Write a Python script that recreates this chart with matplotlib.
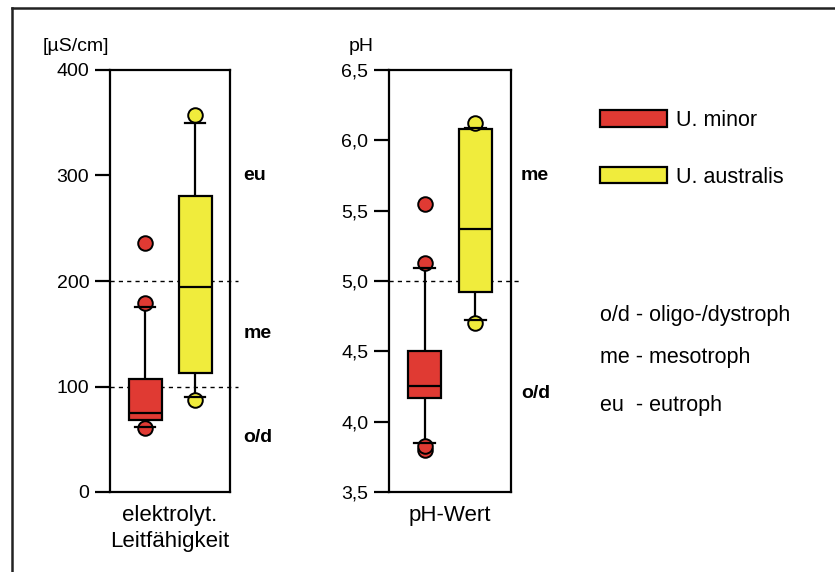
import matplotlib
matplotlib.use('Agg')
import matplotlib.pyplot as plt
from matplotlib.patches import Patch
from matplotlib.lines import Line2D
from matplotlib.ticker import FuncFormatter

plt.rcParams['font.family'] = ['Liberation Sans', 'DejaVu Sans']

species = ['U. minor', 'U. australis']
colors = ['#e03a33', '#f0ec3c']

# elektrolyt. Leitfaehigkeit [uS/cm]
cond_q1 = [68, 113]
cond_med = [75, 194]
cond_q3 = [107, 281]
cond_lo = [62, 90]
cond_hi = [175, 350]
cond_fliers = [[61, 179, 236], [87, 357]]

# pH-Wert
ph_q1 = [4.17, 4.92]
ph_med = [4.25, 5.37]
ph_q3 = [4.50, 6.08]
ph_lo = [3.85, 4.72]
ph_hi = [5.09, 6.09]
ph_fliers = [[3.80, 3.83, 5.13, 5.55], [4.70, 6.12]]

trophic_labels = ['o/d - oligo-/dystroph', 'me - mesotroph', 'eu  - eutroph']


def make_stats(q1, med, q3, lo, hi, fliers):
    return [dict(q1=q1[i], med=med[i], q3=q3[i], whislo=lo[i], whishi=hi[i],
                 fliers=fliers[i]) for i in range(len(med))]


def draw(ax, stats):
    bp = ax.bxp(stats, positions=[1, 2], widths=0.66, capwidths=0.4,
                patch_artist=True, showfliers=True,
                boxprops=dict(linewidth=1.6, edgecolor='black', zorder=3),
                medianprops=dict(color='black', linewidth=1.6, zorder=4),
                whiskerprops=dict(color='black', linewidth=1.6, zorder=2),
                capprops=dict(color='black', linewidth=1.6, zorder=5),
                flierprops=dict(marker='o', markersize=10.5, markeredgecolor='black',
                                markeredgewidth=1.4, zorder=4))
    for i, c in enumerate(colors):
        bp['boxes'][i].set_facecolor(c)
        bp['fliers'][i].set_markerfacecolor(c)
    ax.set_xlim(0.3, 2.7)
    ax.tick_params(axis='x', bottom=False, labelbottom=False)
    ax.tick_params(axis='y', direction='out', length=11, width=1.6, labelsize=14, pad=4)
    for s in ax.spines.values():
        s.set_linewidth(1.6)


fig = plt.figure(figsize=(8.35, 5.72), dpi=100)

ax1 = fig.add_axes([110 / 835, 80 / 572, 120 / 835, 422 / 572])
draw(ax1, make_stats(cond_q1, cond_med, cond_q3, cond_lo, cond_hi, cond_fliers))
ax1.set_ylim(0, 400)
ax1.set_yticks([0, 100, 200, 300, 400])
for v in [100, 200]:
    ax1.plot([0.3, 2.85], [v, v], color='black', linewidth=1, linestyle=(0, (3, 3)),
             clip_on=False, zorder=1)
ax1.text(-0.56, 1.055, '[µS/cm]', transform=ax1.transAxes, fontsize=14, va='center', ha='left')
ax1.text(0.5, -0.03, 'elektrolyt.\nLeitfähigkeit', transform=ax1.transAxes,
         fontsize=16, ha='center', va='top', linespacing=1.35)
for lab, y in [('eu', 300), ('me', 150), ('o/d', 52)]:
    ax1.text(1.11, y, lab, transform=ax1.get_yaxis_transform(), fontsize=14,
             fontweight='bold', va='center', ha='left')

ax2 = fig.add_axes([389 / 835, 80 / 572, 122 / 835, 422 / 572])
draw(ax2, make_stats(ph_q1, ph_med, ph_q3, ph_lo, ph_hi, ph_fliers))
ax2.set_ylim(3.5, 6.5)
ax2.set_yticks([3.5, 4.0, 4.5, 5.0, 5.5, 6.0, 6.5])
ax2.yaxis.set_major_formatter(FuncFormatter(lambda v, p: f'{v:.1f}'.replace('.', ',')))
ax2.plot([0.3, 2.85], [5.0, 5.0], color='black', linewidth=1, linestyle=(0, (3, 3)),
         clip_on=False, zorder=1)
ax2.text(-0.33, 1.055, 'pH', transform=ax2.transAxes, fontsize=14, va='center', ha='left')
ax2.text(0.5, -0.03, 'pH-Wert', transform=ax2.transAxes,
         fontsize=16, ha='center', va='top')
for lab, y in [('me', 5.75), ('o/d', 4.2)]:
    ax2.text(1.08, y, lab, transform=ax2.get_yaxis_transform(), fontsize=14,
             fontweight='bold', va='center', ha='left')

handles = [Patch(facecolor=c, edgecolor='black', linewidth=1.6) for c in colors]
fig.legend(handles, species, loc='upper left', bbox_to_anchor=(600 / 835, 1 - 110 / 572),
           frameon=False, fontsize=15.5, handlelength=3.1, handleheight=0.8,
           handletextpad=0.45, labelspacing=1.65, borderpad=0, borderaxespad=0)

for lab, y in zip(trophic_labels, [315, 358, 405]):
    fig.text(600 / 835, 1 - y / 572, lab, fontsize=15.5, va='center', ha='left')

# outer frame (top and left only)
fig.add_artist(Line2D([12 / 835, 12 / 835], [0, 1 - 8 / 572], color='#222222', linewidth=1.8))
fig.add_artist(Line2D([12 / 835, 1], [1 - 8 / 572, 1 - 8 / 572], color='#222222', linewidth=1.8))

fig.savefig('out.png', dpi=100)
